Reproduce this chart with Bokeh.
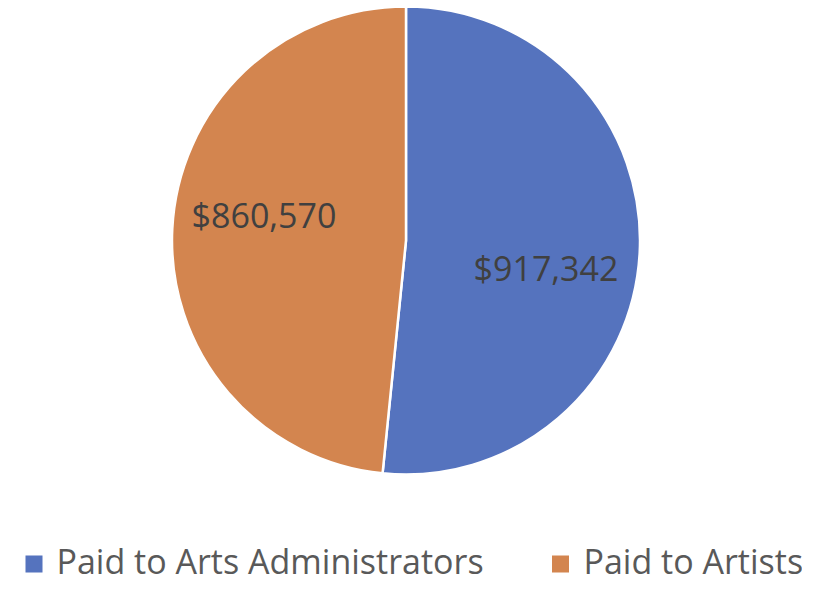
import math
from bokeh.plotting import figure
from bokeh.models import Range1d, ColumnDataSource
from bokeh.core.properties import value
from bokeh.embed import file_html
from bokeh.resources import INLINE

categories = ["Paid to Arts Administrators", "Paid to Artists"]
amounts = [917342, 860570]
colors = ["#5573BE", "#D3854F"]

W, H = 802, 583

def fy(y):
    return H - y

total = sum(amounts)
starts, ends = [], []
a = math.pi / 2
for v in amounts:
    starts.append(a)
    a = a - 2 * math.pi * v / total
    ends.append(a)

cx, cy, r = 405.5, fy(240), 234

p = figure(width=W, height=H, x_range=Range1d(0, W), y_range=Range1d(0, H),
           min_border=0, toolbar_location=None, output_backend="svg")
p.axis.visible = False
p.grid.visible = False
p.outline_line_color = None
p.background_fill_color = "white"
p.border_fill_color = "white"

src = ColumnDataSource(dict(cat=categories, amt=amounts, start=starts, end=ends, color=colors,
                            label=[f"${v:,}" for v in amounts]))
p.wedge(x=cx, y=cy, radius=r, start_angle="start", end_angle="end", direction="clock",
        fill_color="color", line_color="white", line_width=2.5, source=src)

# data labels (positions are layout)
lab_x = [545.5, 263.5]
lab_y = [fy(267), fy(214)]
lsrc = ColumnDataSource(dict(x=lab_x, y=lab_y, label=src.data["label"]))
p.text(x="x", y="y", text="label", source=lsrc, text_align="center", text_baseline="middle",
       text_font=value("Open Sans"), text_font_size="34px", text_color="#404040")

# legend
sq_x = [33.5, 560]
tx_x = [56, 583]
mid = 560
p.rect(x=sq_x, y=[fy(mid + 3.5)] * 2, width=17, height=17, fill_color=colors, line_color=None)
p.text(x=tx_x, y=[fy(mid)] * 2, text=categories, text_align="left", text_baseline="middle",
       text_font=value("Open Sans"), text_font_size="34px", text_color="#595959")

open("out.html", "w").write(file_html(p, INLINE))
